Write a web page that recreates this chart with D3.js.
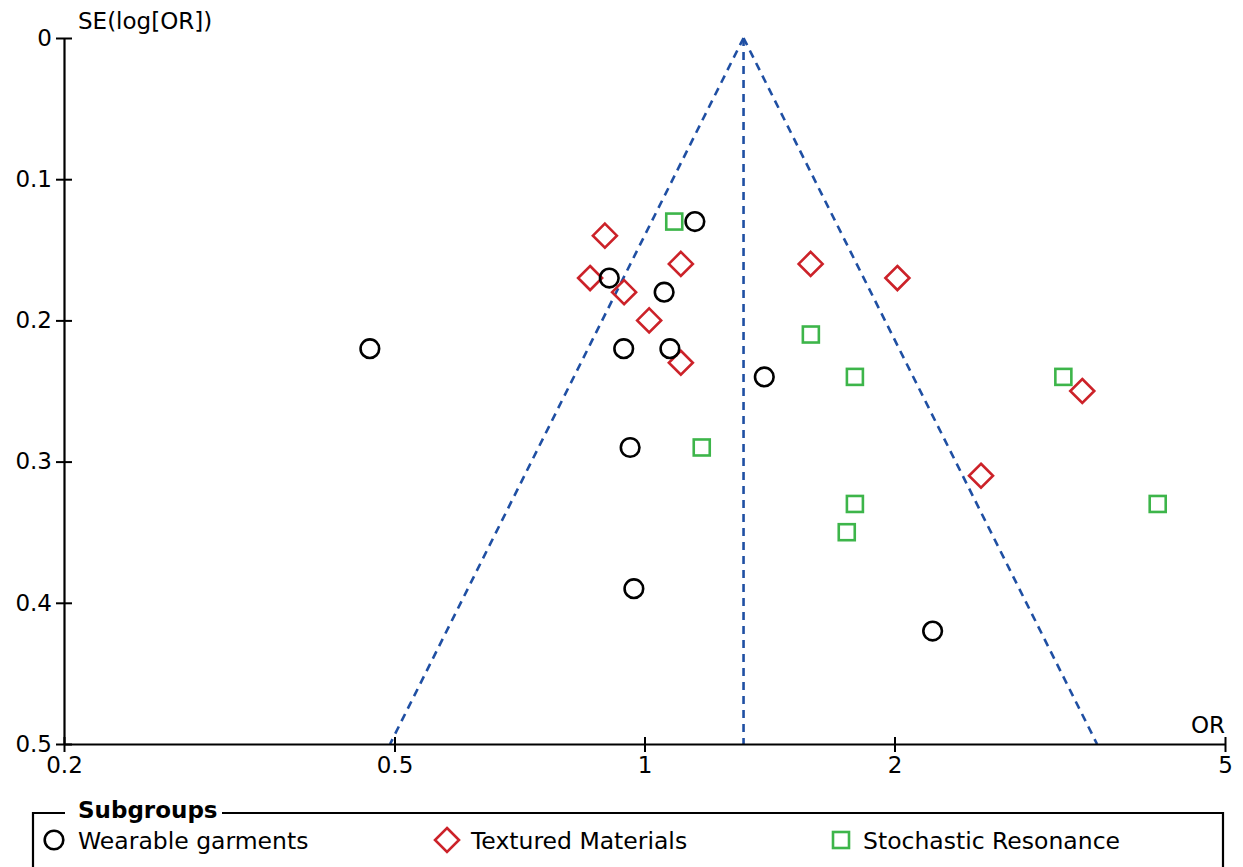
<!DOCTYPE html>
<html>
<head>
<meta charset="utf-8">
<script src="https://cdn.jsdelivr.net/npm/d3@7"></script>
<style>
  html, body { margin: 0; padding: 0; background: #fff; }
  svg { display: block; font-family: "DejaVu Sans", Verdana, sans-serif; }
</style>
</head>
<body>
<svg id="chart" width="1243" height="867"></svg>
<script>
// Funnel plot of study odds ratios against their standard errors

const subgroups = ["Wearable garments", "Textured Materials", "Stochastic Resonance"];

// Wearable garments
const wearableOR = [0.907, 1.150, 1.056, 0.944, 1.073, 1.394, 0.961, 0.971, 2.223, 0.467];
const wearableSE = [0.17, 0.13, 0.18, 0.22, 0.22, 0.24, 0.29, 0.39, 0.42, 0.22];

// Textured materials
const texturedOR = [0.896, 1.106, 0.860, 0.945, 1.013, 1.106, 1.585, 2.016, 2.542, 3.366];
const texturedSE = [0.14, 0.16, 0.17, 0.18, 0.20, 0.23, 0.16, 0.17, 0.31, 0.25];

// Stochastic resonance
const stochasticOR = [1.086, 1.586, 1.792, 1.172, 1.792, 1.752, 3.194, 4.149];
const stochasticSE = [0.13, 0.21, 0.24, 0.29, 0.33, 0.35, 0.24, 0.33];

const pooledOR = 1.316;
const xTicks = [0.2, 0.5, 1, 2, 5];
const yTicks = [0, 0.1, 0.2, 0.3, 0.4, 0.5];

const svg = d3.select("#chart");
const FONT = 23;
const LEGEND_FONT = 23.5;

const x = d3.scaleLog().domain([0.2, 5]).range([64, 1225]);
const y = d3.scaleLinear().domain([0, 0.5]).range([38, 744]);

const blue = "#1f4fa3", red = "#cc2229", green = "#3db54a";

// Funnel: pooled estimate and 95% limits
const seMax = 0.5;
const funnel = svg.append("g")
  .attr("fill", "none").attr("stroke", blue)
  .attr("stroke-width", 2.6).attr("stroke-dasharray", "8,6");
funnel.append("line")
  .attr("x1", x(pooledOR)).attr("y1", y(0))
  .attr("x2", x(pooledOR)).attr("y2", y(seMax));
const line = d3.line().x(d => x(d[0])).y(d => y(d[1]));
funnel.append("path").attr("d", line([[pooledOR, 0], [pooledOR / Math.exp(1.96 * seMax), seMax]]));
funnel.append("path").attr("d", line([[pooledOR, 0], [pooledOR * Math.exp(1.96 * seMax), seMax]]));

// Axes
const xAxis = svg.append("g").attr("transform", `translate(0,${y(0.5)})`)
  .call(d3.axisBottom(x).tickValues(xTicks).tickFormat(d3.format("")).tickSize(8).tickSizeOuter(0));
const yAxis = svg.append("g").attr("transform", `translate(${x(0.2)},0)`)
  .call(d3.axisLeft(y).tickValues(yTicks).tickFormat(d => d === 0 ? "0" : d3.format(".1f")(d)).tickSize(8).tickSizeOuter(0));

[xAxis, yAxis].forEach(g => {
  g.select(".domain").attr("stroke", "#000").attr("stroke-width", 2.2);
  g.selectAll(".tick line").attr("stroke", "#000").attr("stroke-width", 2);
  g.selectAll("text").attr("fill", "#000").style("font-size", FONT + "px")
    .style("font-family", "'DejaVu Sans', Verdana, sans-serif");
});
// ticks cross the axis line
xAxis.selectAll(".tick line").attr("y1", -7).attr("y2", 8);
xAxis.selectAll(".tick text").attr("y", 13);
yAxis.selectAll(".tick line").attr("x1", -8).attr("x2", 8);
yAxis.selectAll(".tick text").attr("x", -12);

svg.append("text").attr("x", 78).attr("y", 29)
  .style("font-size", FONT + "px").text("SE(log[OR])");
svg.append("text").attr("x", 1225).attr("y", 733).attr("text-anchor", "end")
  .style("font-size", FONT + "px").text("OR");

// Marker symbols
const circle = (g, cx, cy) => g.append("circle").attr("cx", cx).attr("cy", cy).attr("r", 9.3)
  .attr("fill", "none").attr("stroke", "#000").attr("stroke-width", 2.6);
const diamond = (g, cx, cy) => g.append("path")
  .attr("d", `M${cx},${cy - 12}L${cx + 12},${cy}L${cx},${cy + 12}L${cx - 12},${cy}Z`)
  .attr("fill", "none").attr("stroke", red).attr("stroke-width", 2.6);
const square = (g, cx, cy) => g.append("rect").attr("x", cx - 8).attr("y", cy - 8)
  .attr("width", 16).attr("height", 16)
  .attr("fill", "none").attr("stroke", green).attr("stroke-width", 2.6);

const pts = svg.append("g");
stochasticOR.forEach((or, i) => square(pts, x(or), y(stochasticSE[i])));
texturedOR.forEach((or, i) => diamond(pts, x(or), y(texturedSE[i])));
wearableOR.forEach((or, i) => circle(pts, x(or), y(wearableSE[i])));

// Legend
const leg = svg.append("g");
leg.append("path")
  .attr("d", "M65,813H33V880M222,813H1223V880")
  .attr("fill", "none").attr("stroke", "#000").attr("stroke-width", 2.2);
leg.append("text").attr("x", 78).attr("y", 818)
  .style("font-size", FONT + "px").style("font-weight", "bold").text("Subgroups");
const legItems = [
  { sx: 54, tx: 78, draw: circle },
  { sx: 447, tx: 471, draw: diamond },
  { sx: 841, tx: 863, draw: square }
];
legItems.forEach((it, i) => {
  it.draw(leg, it.sx, 840);
  leg.append("text").attr("x", it.tx).attr("y", 849)
    .style("font-size", LEGEND_FONT + "px").text(subgroups[i]);
});
</script>
</body>
</html>
